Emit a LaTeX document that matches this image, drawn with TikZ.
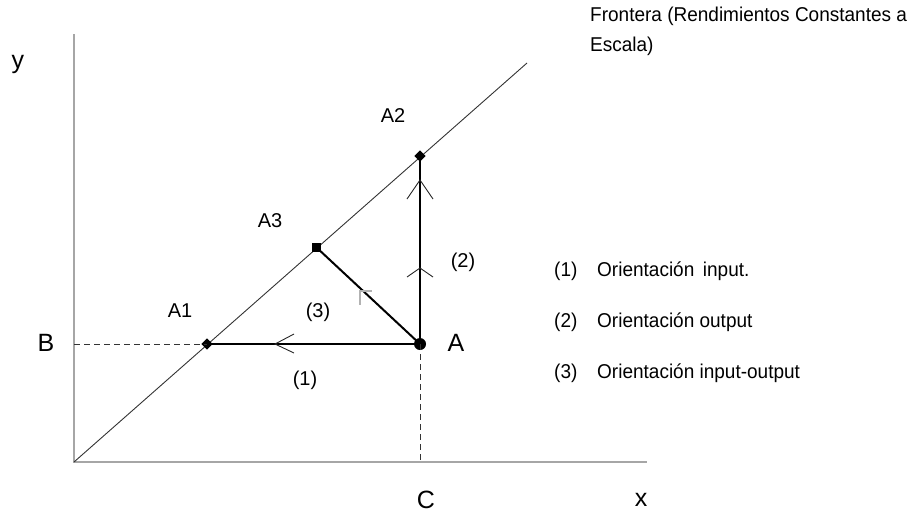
\documentclass[tikz,border=0pt]{standalone}
\usepackage{fontspec}
\setmainfont{Liberation Sans}
\newfontfamily\narrowfont[FakeStretch=0.95]{Liberation Sans}
\begin{document}
\begin{tikzpicture}[x=1pt,y=-1pt,
  axis/.style={draw=black!35,line width=1.4pt},
  diag/.style={draw=black!80,line width=0.9pt},
  thickln/.style={draw=black,line width=2pt},
  dashln/.style={draw=black!80,line width=1pt,dash pattern=on 6pt off 4pt},
  chev/.style={draw=black!85,line width=0.9pt},
  biglbl/.style={font=\fontsize{25}{29}\selectfont,inner sep=0pt},
  smlbl/.style={font=\fontsize{20}{23}\selectfont,inner sep=0pt},
  legtxt/.style={font=\narrowfont\fontsize{20}{24}\selectfont,inner sep=0pt,anchor=west},
  dotc/.style={circle,fill=black,inner sep=0pt,minimum size=12pt},
  dotd/.style={fill=black,inner sep=0pt,minimum size=8pt,rotate=45},
  dots/.style={fill=black,inner sep=0pt,minimum size=9pt}]
\useasboundingbox (0,0) rectangle (917,512);
% coordinates
\coordinate (O) at (74,462);
\coordinate (Ytop) at (74,34);
\coordinate (Xend) at (647,462);
\coordinate (Dend) at (527,63);
\coordinate (Bp) at (74,344);
\coordinate (Cp) at (420,462);
% axes
\draw[axis] (Ytop) -- (O) -- (Xend);
\draw[diag] (O) -- (Dend);
% points
\node[dotc] (A) at (420,344) {};
\node[dotd] (A1) at (207,344) {};
\node[dotd] (A2) at (420,156) {};
\node[dots] (A3) at (316,247) {};
% dashed
\draw[dashln] (Bp) -- (A1.center);
\draw[dashln] (A.center) -- (Cp);
% thick paths
\draw[thickln] (A.center) -- (A1.center);
\draw[thickln] (A.center) -- (A2.center);
\draw[thickln] (A.center) -- (A3.center);
% chevrons
\coordinate (h1) at (275,344);
\draw[chev] (294,334) -- (h1) -- (294,353);
\coordinate (v1) at (420,180);
\draw[chev] (407,199) -- (v1) -- (433,199);
\coordinate (v2) at (420,268);
\draw[chev] (407,277) -- (v2) -- (433,277);
% faint mark on diagonal
\draw[draw=black!30,line width=1.2pt] (372,291) -- (360,291) -- (360,305);
% labels
\node[biglbl] (ly) at (18,64) {y};
\node[biglbl] (lB) at (46,343) {B};
\node[biglbl] (lA) at (456,343) {A};
\node[biglbl] (lC) at (426,500) {C};
\node[biglbl] (lx) at (641,500) {x};
\node[smlbl] (lA1) at (180,311) {A1};
\node[smlbl] (lA2) at (393,116) {A2};
\node[smlbl] (lA3) at (270,221) {A3};
\node[smlbl] (l1) at (305,380) {(1)};
\node[smlbl] (l2) at (463,262) {(2)};
\node[smlbl] (l3) at (318,312) {(3)};
% frontier caption
\node[legtxt] (fr1) at (590,16) {Frontera (Rendimientos Constantes a};
\node[legtxt] (fr2) at (590,46) {Escala)};
% legend
\node[legtxt] (n1) at (554,271) {(1)};
\node[legtxt] (t1) at (597,271) {Orientación\, input.};
\node[legtxt] (n2) at (554,322) {(2)};
\node[legtxt] (t2) at (597,322) {Orientación output};
\node[legtxt] (n3) at (554,373) {(3)};
\node[legtxt] (t3) at (597,373) {Orientación input-output};
\end{tikzpicture}
\end{document}
